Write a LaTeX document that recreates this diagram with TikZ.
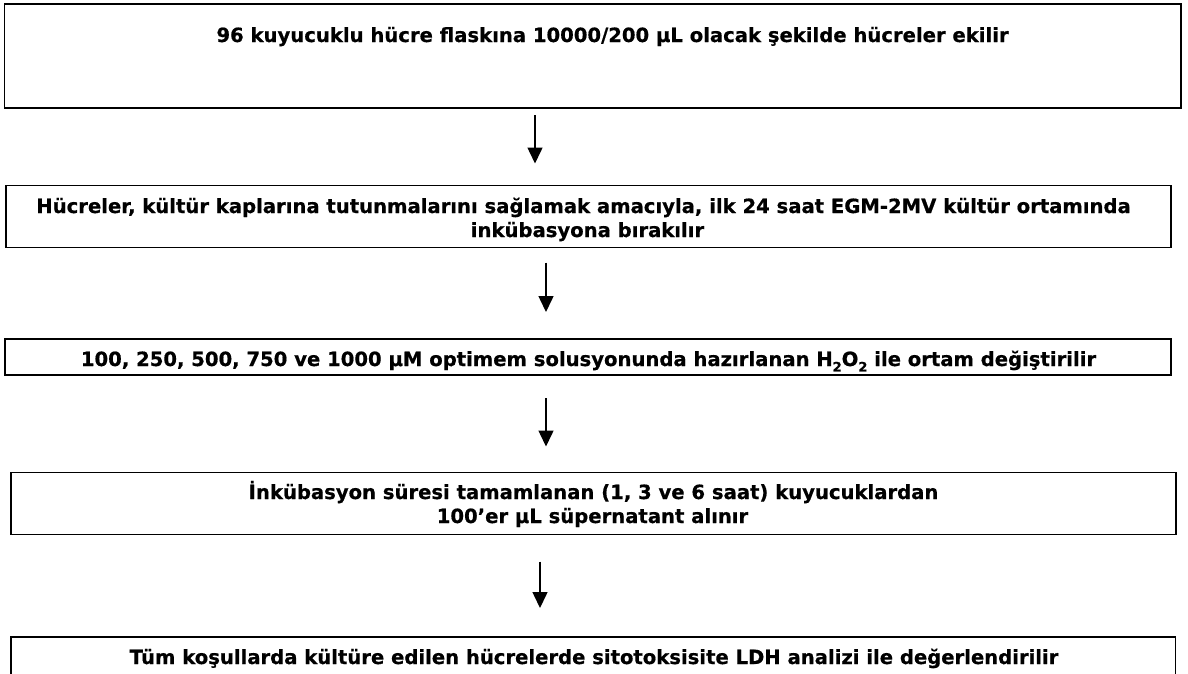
\documentclass[tikz,border=0pt]{standalone}
\usepackage{fontspec}
\setmainfont{DejaVu Sans}[BoldFeatures={FakeBold=0.6}]
\usetikzlibrary{arrows.meta}
\newcommand{\subtwo}{\raisebox{-0.28em}{\fontsize{13}{13}\selectfont 2}}
\begin{document}
\begin{tikzpicture}[
  box/.style={draw=black, line width=1.7pt, inner sep=0pt, outer sep=0pt, fill=none},
  txt/.style={anchor=base, inner sep=0pt, font=\fontsize{19.6}{24}\selectfont\bfseries},
  arr/.style={line width=1.5pt, -{Triangle[width=15pt,length=16pt]}}
]
\useasboundingbox (0,0) rectangle (1188pt,-673pt);
% boxes
\node[box, minimum width=1176.5pt, minimum height=104pt] (b1) at (592.75pt,-56pt) {};
\node[box, minimum width=1165pt, minimum height=62pt] (b2) at (588.5pt,-216.5pt) {};
\node[box, minimum width=1166pt, minimum height=36pt] (b3) at (588pt,-357pt) {};
\node[box, minimum width=1165pt, minimum height=62pt] (b4) at (593.5pt,-503.5pt) {};
\node[box, minimum width=1164.5pt, minimum height=100pt] (b5) at (593.25pt,-687pt) {};
% texts
\node[txt] (t1) at (612.5pt,-42pt) {96 kuyucuklu hücre flaskına 10000/200 µL olacak şekilde hücreler ekilir};
\node[txt] (t2a) at (583.5pt,-213pt) {Hücreler, kültür kaplarına tutunmalarını sağlamak amacıyla, ilk 24 saat EGM-2MV kültür ortamında};
\node[txt] (t2b) at (587.5pt,-237pt) {inkübasyona bırakılır};
\node[txt] (t3) at (588.5pt,-366pt) {100, 250, 500, 750 ve 1000 µM optimem solusyonunda hazırlanan H\subtwo O\subtwo{} ile ortam değiştirilir};
\node[txt] (t4a) at (593.5pt,-499pt) {İnkübasyon süresi tamamlanan (1, 3 ve 6 saat) kuyucuklardan};
\node[txt] (t4b) at (592.5pt,-523pt) {100’er µL süpernatant alınır};
\node[txt] (t5) at (594pt,-664pt) {Tüm koşullarda kültüre edilen hücrelerde sitotoksisite LDH analizi ile değerlendirilir};
% arrow x positions
\coordinate (xa1) at (535pt,0);
\coordinate (xa2) at (546pt,0);
\coordinate (xa3) at (546pt,0);
\coordinate (xa4) at (540pt,0);
\draw[arr, shorten <=7pt, shorten >=22pt] (b1.south -| xa1) -- (b2.north -| xa1);
\draw[arr, shorten <=15pt, shorten >=27pt] (b2.south -| xa2) -- (b3.north -| xa2);
\draw[arr, shorten <=23pt, shorten >=26pt] (b3.south -| xa3) -- (b4.north -| xa3);
\draw[arr, shorten <=27pt, shorten >=29pt] (b4.south -| xa4) -- (b5.north -| xa4);
\end{tikzpicture}
\end{document}
